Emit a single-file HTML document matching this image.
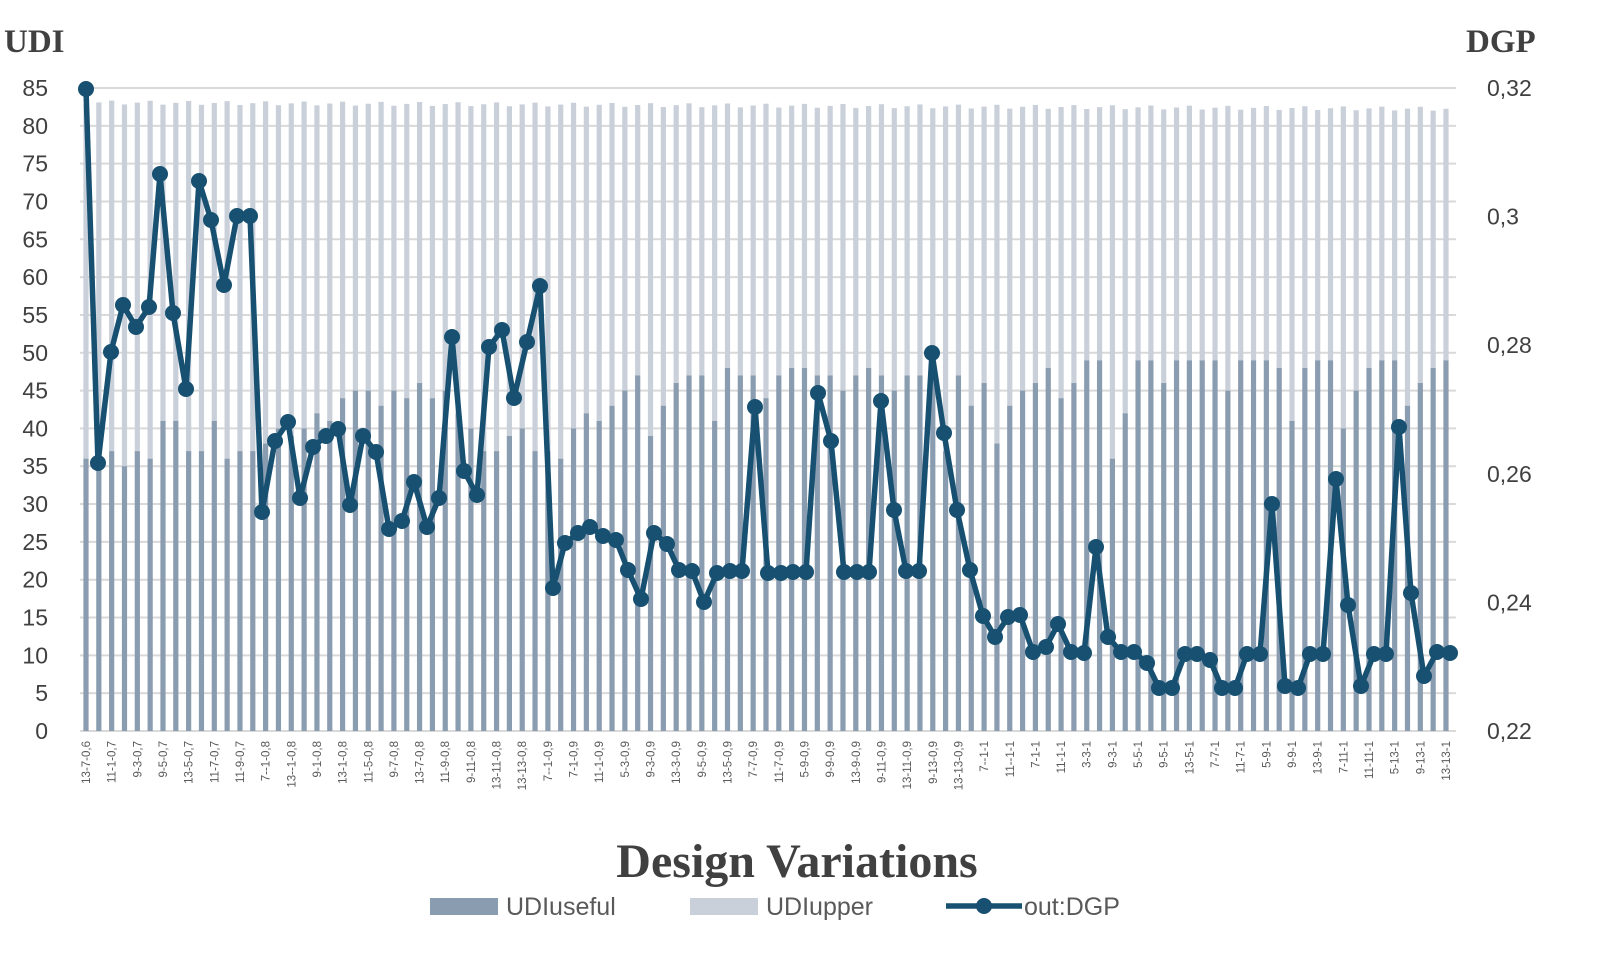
<!DOCTYPE html>
<html><head><meta charset="utf-8"><style>
html,body{margin:0;padding:0;background:#fff}
svg{display:block}
</style></head><body>
<svg id="c" width="1600" height="979" xmlns="http://www.w3.org/2000/svg"></svg>
<script>
const s=document.getElementById('c');let h='';
const X0=86,DX=12.83,Y0=731,U=(731-88)/85;
const yU=v=>Y0-v*U;
// gridlines
for(let v=0;v<=85;v+=5){h+=`<line x1="80" x2="1456" y1="${yU(v)}" y2="${yU(v)}" stroke="#d9d9d9" stroke-width="2"/>`;
h+=`<text x="48" y="${yU(v)+8}" text-anchor="end" font-family="Liberation Sans, sans-serif" font-size="23" fill="#404040">${v}</text>`;}
const rl=['0,32','0,3','0,28','0,26','0,24','0,22'];
rl.forEach((t,i)=>{const y=88+i*(643/5);h+=`<text x="1487" y="${y+8}" font-family="Liberation Sans, sans-serif" font-size="23" fill="#404040">${t}</text>`;});
const useful=[36,37,37,35,37,36,41,41,37,37,41,36,37,
37,38,40,39,40,42,41,44,45,45,43,45,44,46,44,45,
42,40,37,37,39,40,37,37,36,
40,42,41,43,45,47,39,43,
46,47,47,41,48,47,47,44,47,48,48,47,
47,45,47,48,47,45,47,47,48,37,47,43,46,
38,43,45,46,48,44,46,49,
49,36,42,49,49,
46,49,49,49,49,45,49,49,49,48,41,48,49,49,40,45,48,49,49,43,46,48,49];
for(let i=0;i<107;i++){const x=X0+i*DX;const tot=83.1-i*0.008+((i*7)%3-1)*0.25;
h+=`<rect x="${x-2.6}" y="${yU(tot)}" width="5.2" height="${(tot-useful[i])*U}" fill="#c9d0da"/>`;
h+=`<rect x="${x-2.6}" y="${yU(useful[i])}" width="5.2" height="${useful[i]*U}" fill="#8a9cb0"/>`;}
const labs="13-7-0,6;11-1-0,7;9-3-0,7;9-5-0,7;13-5-0,7;11-7-0,7;11-9-0,7;7--1-0,8;13--1-0,8;9-1-0,8;13-1-0,8;11-5-0,8;9-7-0,8;13-7-0,8;11-9-0,8;9-11-0,8;13-11-0,8;13-13-0,8;7--1-0,9;7-1-0,9;11-1-0,9;5-3-0,9;9-3-0,9;13-3-0,9;9-5-0,9;13-5-0,9;7-7-0,9;11-7-0,9;5-9-0,9;9-9-0,9;13-9-0,9;9-11-0,9;13-11-0,9;9-13-0,9;13-13-0,9;7--1-1;11--1-1;7-1-1;11-1-1;3-3-1;9-3-1;5-5-1;9-5-1;13-5-1;7-7-1;11-7-1;5-9-1;9-9-1;13-9-1;7-11-1;11-11-1;5-13-1;9-13-1;13-13-1".split(';');
labs.forEach((t,k)=>{const x=X0+2*k*DX+4;h+=`<text transform="translate(${x},741) rotate(-90)" text-anchor="end" font-family="Liberation Sans, sans-serif" font-size="11.5" fill="#595959">${t}</text>`;});
const m=[[86,89],[98,463],[111,352],[123,305],[136,327],[149,307],[160,174],[173,313],[186,389],[199,181],[211,220],[224,285],[237,216],[250,216],[262,512],[275,441],[288,422],[300,498],[313,447],[326,436],[338,429],[350,505],[363,436],[376,452],[389,529],[402,521],[414,482],[427,527],[439,498],[452,337],[464,471],[477,495],[489,347],[502,330],[514,398],[527,342],[540,286],[553,588],[565,543],[578,533],[590,527],[603,536],[616,540],[628,570],[641,599],[654,533],[667,544],[679,570],[692,571],[704,602],[717,573],[730,571],[742,571],[755,407],[768,573],[781,573],[793,572],[806,572],[818,393],[831,441],[844,572],[857,572],[869,572],[881,401],[894,510],[906,571],[919,571],[932,353],[944,433],[957,510],[970,570],[983,616],[995,637],[1008,617],[1020,615],[1033,652],[1046,647],[1058,624],[1071,652],[1084,653],[1096,547],[1108,637],[1121,652],[1134,652],[1147,663],[1159,688],[1172,688],[1185,654],[1197,654],[1210,660],[1222,688],[1235,688],[1247,654],[1260,654],[1272,504],[1285,686],[1298,688],[1310,654],[1323,654],[1336,479],[1348,605],[1361,686],[1374,654],[1386,654],[1399,427],[1411,593],[1424,676],[1437,652],[1450,653]];
const sc=(1450-86)/(m[m.length-1][0]-86);
const pts=m.map(p=>[86+(p[0]-86)*sc,p[1]]);
h+=`<polyline points="${pts.map(p=>p.join(',')).join(' ')}" fill="none" stroke="#175070" stroke-width="5.5" stroke-linejoin="round"/>`;
pts.forEach(p=>{h+=`<circle cx="${p[0]}" cy="${p[1]}" r="8" fill="#175070"/>`;});
h+=`<text x="4" y="52" font-family="Liberation Serif, serif" font-weight="bold" font-size="33" fill="#404040">UDI</text>`;
h+=`<text x="1466" y="52" font-family="Liberation Serif, serif" font-weight="bold" font-size="33" fill="#404040">DGP</text>`;
h+=`<text x="797" y="877" text-anchor="middle" font-family="Liberation Serif, serif" font-weight="bold" font-size="48" fill="#404040">Design Variations</text>`;
h+=`<rect x="430" y="898" width="68" height="17" fill="#8a9cb0"/><text x="506" y="915" font-family="Liberation Sans, sans-serif" font-size="25" fill="#595959">UDIuseful</text>`;
h+=`<rect x="690" y="898" width="68" height="17" fill="#c9d0da"/><text x="766" y="915" font-family="Liberation Sans, sans-serif" font-size="25" fill="#595959">UDIupper</text>`;
h+=`<line x1="946" x2="1022" y1="906" y2="906" stroke="#175070" stroke-width="5.5"/><circle cx="984" cy="906" r="8" fill="#175070"/><text x="1024" y="915" font-family="Liberation Sans, sans-serif" font-size="25" fill="#595959">out:DGP</text>`;
s.innerHTML=h;
</script>
</body></html>
